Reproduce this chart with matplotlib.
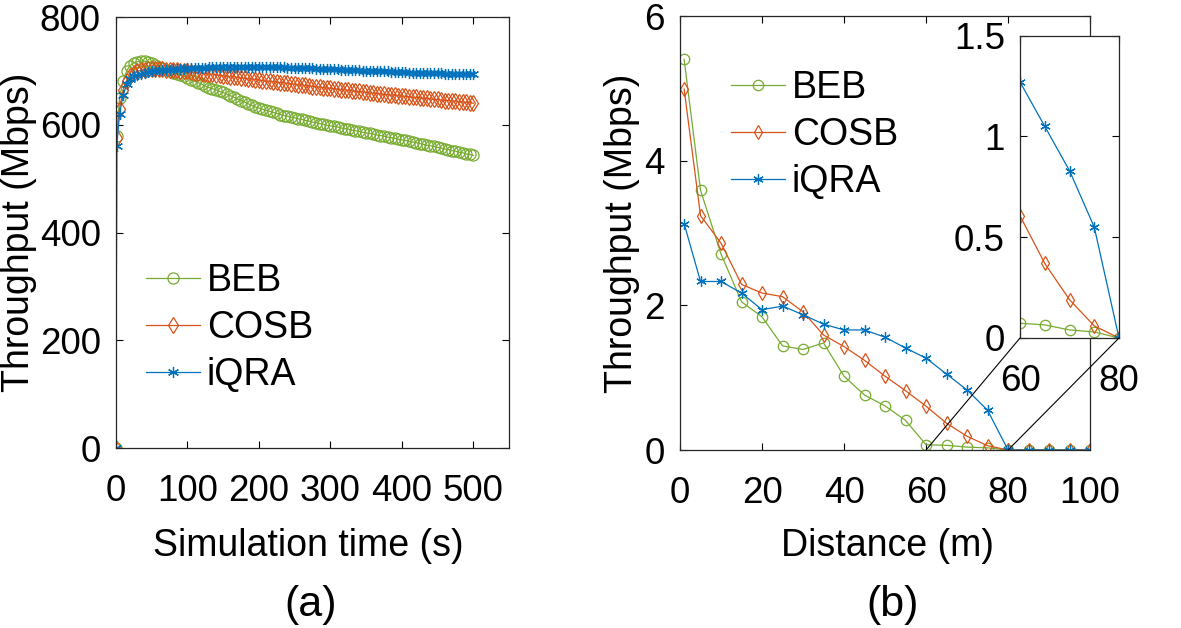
import numpy as np
import matplotlib
matplotlib.use('Agg')
import matplotlib.pyplot as plt
from matplotlib.patches import ConnectionPatch

plt.rcParams['font.family'] = ['Liberation Sans', 'DejaVu Sans']

# (a) throughput vs simulation time, samples every 5 s
sim_time = [0, 1] + list(range(5, 501, 5))

beb_time = [0, 580,
    650, 682, 700, 710, 715, 717, 718, 718, 717, 714,
    711, 708, 705, 702, 699, 697, 695, 692, 690, 687,
    684, 681, 678, 675, 672, 669, 667, 665, 662, 660,
    657, 654, 651, 648, 645, 642, 639, 636, 633, 631,
    629, 627, 625, 623, 621, 619, 617, 616, 614, 613,
    611, 610, 608, 607, 605, 604, 602, 601, 599, 598,
    597, 596, 594, 593, 592, 590, 589, 588, 586, 585,
    584, 583, 581, 580, 579, 577, 576, 575, 573, 572,
    571, 569, 568, 567, 565, 564, 562, 561, 560, 558,
    557, 555, 554, 552, 551, 549, 548, 546, 545, 543]

cosb_time = [0, 575,
    630, 665, 682, 691, 696, 699, 701, 702, 703, 703,
    703, 703, 703, 702, 702, 701, 701, 700, 700, 699,
    698, 697, 697, 696, 695, 694, 694, 693, 692, 691,
    690, 689, 689, 688, 687, 686, 685, 685, 684, 683,
    682, 681, 681, 680, 679, 678, 678, 677, 676, 675,
    674, 674, 673, 672, 671, 671, 670, 669, 668, 668,
    667, 666, 665, 665, 664, 663, 662, 662, 661, 660,
    659, 659, 658, 657, 657, 656, 655, 655, 654, 653,
    653, 652, 651, 651, 650, 649, 649, 648, 647, 647,
    646, 645, 645, 644, 644, 643, 642, 642, 641, 640]

iqra_time = [0, 560,
    620, 655, 675, 685, 690, 693, 695, 697, 698, 700,
    700, 701, 701, 702, 702, 703, 703, 704, 704, 705,
    705, 705, 706, 706, 706, 707, 707, 707, 708, 708,
    708, 708, 708, 708, 708, 708, 708, 708, 708, 708,
    708, 708, 707, 707, 707, 707, 707, 706, 706, 706,
    706, 705, 705, 705, 705, 704, 704, 704, 703, 703,
    703, 703, 702, 702, 702, 701, 701, 701, 700, 700,
    700, 700, 699, 699, 699, 699, 698, 698, 698, 698,
    698, 697, 697, 697, 697, 697, 696, 696, 696, 696,
    696, 695, 695, 695, 695, 695, 694, 694, 694, 694]

# (b) throughput vs distance
distance = [1, 5, 10, 15, 20, 25, 30, 35, 40, 45, 50,
            55, 60, 65, 70, 75, 80, 85, 90, 95, 100]
beb_dist = [5.40, 3.59, 2.71, 2.05, 1.84, 1.44, 1.39, 1.48, 1.02, 0.76, 0.61,
            0.41, 0.073, 0.065, 0.04, 0.03, 0, 0, 0, 0, 0]
cosb_dist = [4.99, 3.24, 2.86, 2.29, 2.17, 2.12, 1.91, 1.59, 1.43, 1.24, 1.02,
             0.82, 0.606, 0.37, 0.19, 0.06, 0, 0, 0, 0, 0]
iqra_dist = [3.13, 2.33, 2.33, 2.17, 1.94, 1.99, 1.87, 1.74, 1.66, 1.66, 1.56,
             1.41, 1.27, 1.05, 0.83, 0.55, 0, 0, 0, 0, 0]

names = ['BEB', 'COSB', 'iQRA']
colors = ['#77AC30', '#D95319', '#0072BD']
markers = ['o', 'd', (6, 2, 0)]

tick_fs = 26.5
lab_fs = 27

fig = plt.figure(figsize=(11.81, 6.28), dpi=100)
ax1 = fig.add_axes([0.0982, 0.2866, 0.3328, 0.6863])
ax2 = fig.add_axes([0.5758, 0.2834, 0.3472, 0.6911])
axin = fig.add_axes([0.8637, 0.4618, 0.0838, 0.4814])


def style(ax):
    ax.tick_params(direction='in', length=5, width=0.8, labelsize=tick_fs,
                   top=True, right=True)
    ax.tick_params(axis='x', pad=19)
    ax.tick_params(axis='y', pad=11)
    for s in ax.spines.values():
        s.set_linewidth(0.9)
        s.set_color('#262626')


for ys, c, m, n in zip([beb_time, cosb_time, iqra_time], colors, markers, names):
    ax1.plot(sim_time, ys, color=c, marker=m, mfc='none', ms=8, mew=0.9,
             lw=0.9, label=n)
ax1.set_xlim(0, 550)
ax1.set_ylim(0, 800)
ax1.set_xticks([0, 100, 200, 300, 400, 500])
ax1.set_yticks([0, 200, 400, 600, 800])
ax1.set_xlabel('Simulation time (s)', fontsize=lab_fs)
ax1.set_ylabel('Throughput (Mbps)', fontsize=lab_fs)
ax1.xaxis.set_label_coords(0.49, -0.186)
ax1.yaxis.set_label_coords(-0.201, 0.5)
style(ax1)
ax1.legend(frameon=False, fontsize=lab_fs, loc='center left',
           bbox_to_anchor=(0.076, 0.278), handlelength=1.44, handletextpad=0.19,
           labelspacing=0.3, borderaxespad=0, borderpad=0)

for ys, c, m, n in zip([beb_dist, cosb_dist, iqra_dist], colors, markers, names):
    ax2.plot(distance, ys, color=c, marker=m, mfc='none', ms=7.5, mew=0.9,
             lw=0.9, label=n)
    axin.plot(distance, ys, color=c, marker=m, mfc='none', ms=7.5, mew=0.9,
              lw=0.9)
ax2.set_xlim(0, 100)
ax2.set_ylim(0, 6)
ax2.set_xticks([0, 20, 40, 60, 80, 100])
ax2.set_yticks([0, 2, 4, 6])
ax2.set_xlabel('Distance (m)', fontsize=lab_fs)
ax2.set_ylabel('Throughput (Mbps)', fontsize=lab_fs)
ax2.xaxis.set_label_coords(0.505, -0.18)
ax2.yaxis.set_label_coords(-0.098, 0.5)
style(ax2)
ax2.legend(frameon=False, fontsize=lab_fs, loc='center left',
           bbox_to_anchor=(0.124, 0.726), handlelength=1.44, handletextpad=0.19,
           labelspacing=0.3, borderaxespad=0, borderpad=0)

axin.set_xlim(60, 80)
axin.set_ylim(0, 1.5)
axin.set_xticks([60, 80])
axin.set_yticks([0, 0.5, 1, 1.5])
axin.set_yticklabels(['0', '0.5', '1', '1.5'])
style(axin)
axin.patch.set_facecolor('white')

# zoom connector lines from main axes to inset corners
x0, x1 = axin.get_xlim()
for xv in (x0, x1):
    con = ConnectionPatch(xyA=(xv, 0), coordsA=ax2.transData,
                          xyB=(xv, 0), coordsB=axin.transData,
                          color='black', lw=0.8)
    fig.add_artist(con)

fig.text(311 / 1181, 1 - 605 / 628, '(a)', fontsize=31, ha='center', va='center')
fig.text(893 / 1181, 1 - 605 / 628, '(b)', fontsize=31, ha='center', va='center')

fig.savefig('out.png', dpi=100)
